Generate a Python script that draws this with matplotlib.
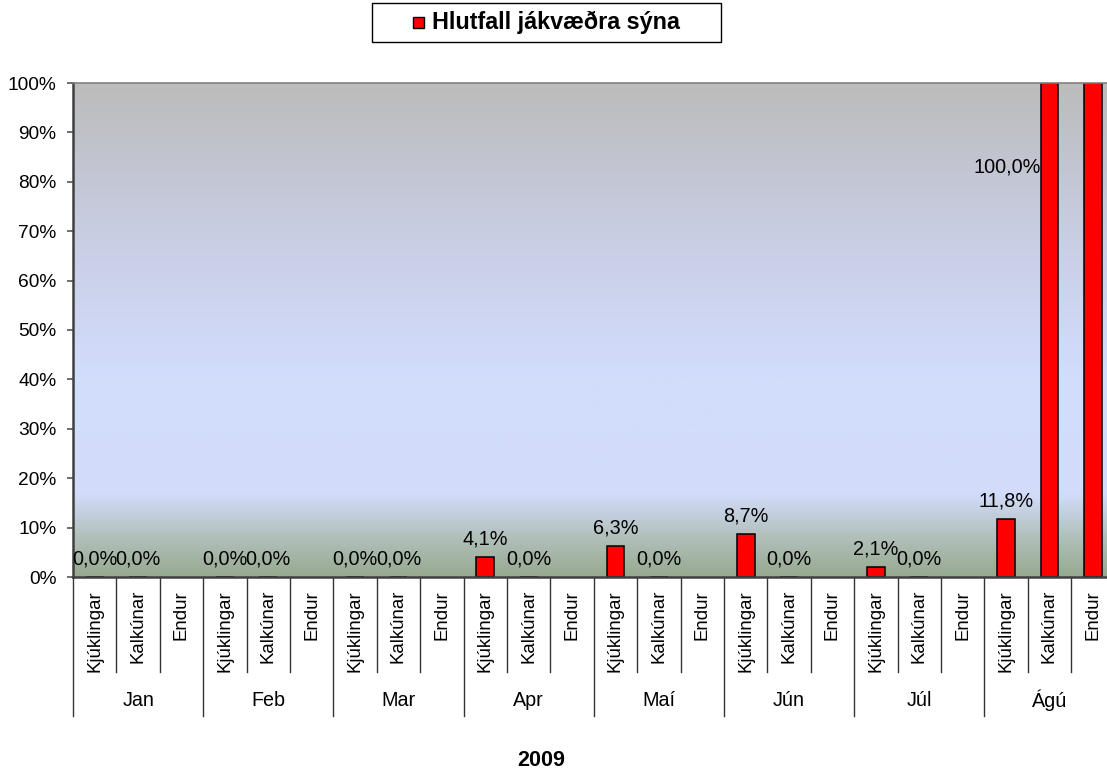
import matplotlib
matplotlib.use("Agg")
import matplotlib.pyplot as plt
import numpy as np
from matplotlib.colors import LinearSegmentedColormap
from matplotlib.patches import Rectangle
import matplotlib.transforms as mtransforms

plt.rcParams['font.family'] = ['Liberation Sans', 'DejaVu Sans']

months = ['Jan', 'Feb', 'Mar', 'Apr', 'Maí', 'Jún', 'Júl', 'Ágú']
categories = ['Kjúklingar', 'Kalkúnar', 'Endur']
kjuklingar = [0.0, 0.0, 0.0, 4.1, 6.3, 8.7, 2.1, 11.8]
kalkunar = [0.0, 0.0, 0.0, 0.0, 0.0, 0.0, 0.0, 100.0]
endur = [None, None, None, None, None, None, None, 100.0]
legend_label = 'Hlutfall jákvæðra sýna'
year_label = '2009'

W, H = 1107, 774
fig = plt.figure(figsize=(W / 100, H / 100), dpi=100)
# plot area in pixels (right edge runs slightly past the figure, as in the original)
x0, x1, ytop, ybot = 73, 1114.6, 83, 577
ax = fig.add_axes([x0 / W, 1 - ybot / H, (x1 - x0) / W, (ybot - ytop) / H])

def px_to_axes(py):
    return -(py - ybot) / (ybot - ytop)

n = len(months) * len(categories)
ax.set_xlim(0, n)
ax.set_ylim(0, 100)

# background gradient
stops = [(0.0, '#97aa8f'), (0.08, '#b2c0bc'), (0.166, '#d2dcfa'), (0.41, '#d2dcfc'),
         (0.70, '#c8cde2'), (1.0, '#bcbcbc')]
cmap = LinearSegmentedColormap.from_list('bg', stops)
grad = np.linspace(0, 1, 400).reshape(-1, 1)
ax.imshow(grad, cmap=cmap, origin='lower', extent=[0, n, 0, 100], aspect='auto', zorder=0)

series = [kjuklingar, kalkunar, endur]
bw = 0.41
for ci, vals in enumerate(series):
    for mi, v in enumerate(vals):
        if v is None:
            continue
        xc = mi * 3 + ci + 0.5
        ax.bar(xc, v, width=bw, color='#ff0000', edgecolor='black', linewidth=1.1, zorder=2)
        if ci == 2:
            continue
        lab = f'{v:.1f}%'.replace('.', ',')
        if v >= 100:
            ax.text(xc - bw / 2, 83, lab, ha='right', va='center', fontsize=14.3, zorder=3)
        else:
            ax.annotate(lab, (xc, v), xytext=(0, 6), textcoords='offset points',
                        ha='center', va='bottom', fontsize=14.3, zorder=3)

ax.set_yticks(range(0, 101, 10))
ax.set_yticklabels([f'{t}%' for t in range(0, 101, 10)], fontsize=13.8)
ax.tick_params(axis='y', direction='out', length=4, width=1.2, color='#555555', pad=8)
ax.set_xticks([])

for s in ['left', 'bottom']:
    ax.spines[s].set_color('#404040')
    ax.spines[s].set_linewidth(1.8)
ax.spines['top'].set_color('#808080')
ax.spines['top'].set_linewidth(1.2)
ax.spines['right'].set_visible(False)

# custom category axis
trans = mtransforms.blended_transform_factory(ax.transData, ax.transAxes)
for i in range(n + 1):
    yend = px_to_axes(716) if i % 3 == 0 else px_to_axes(672)
    ax.plot([i, i], [0, yend], color='#333333', lw=1.0, transform=trans, clip_on=False)
for mi, m in enumerate(months):
    for ci, c in enumerate(categories):
        ax.text(mi * 3 + ci + 0.5, px_to_axes(590), c, rotation=90, ha='center', va='top',
                fontsize=13.4, transform=trans, clip_on=False)
    ax.text(mi * 3 + 1.5, px_to_axes(700), m, ha='center', va='center', fontsize=14.2,
            transform=trans, clip_on=False)

fig.text(541 / W, 1 - 760 / H, year_label, ha='center', va='center', fontsize=15.5, fontweight='bold')

# legend box
fig.patches.append(Rectangle((372 / W, 1 - 42 / H), 349 / W, 39 / H, transform=fig.transFigure,
                             facecolor='white', edgecolor='black', lw=1.0))
fig.patches.append(Rectangle((413 / W, 1 - 28 / H), 11 / W, 11 / H, transform=fig.transFigure,
                             facecolor='#ff0000', edgecolor='black', lw=1.0))
fig.text(432 / W, 1 - 22.5 / H, legend_label, ha='left', va='center', fontsize=16.8, fontweight='bold')

fig.savefig('out.png', dpi=100)
